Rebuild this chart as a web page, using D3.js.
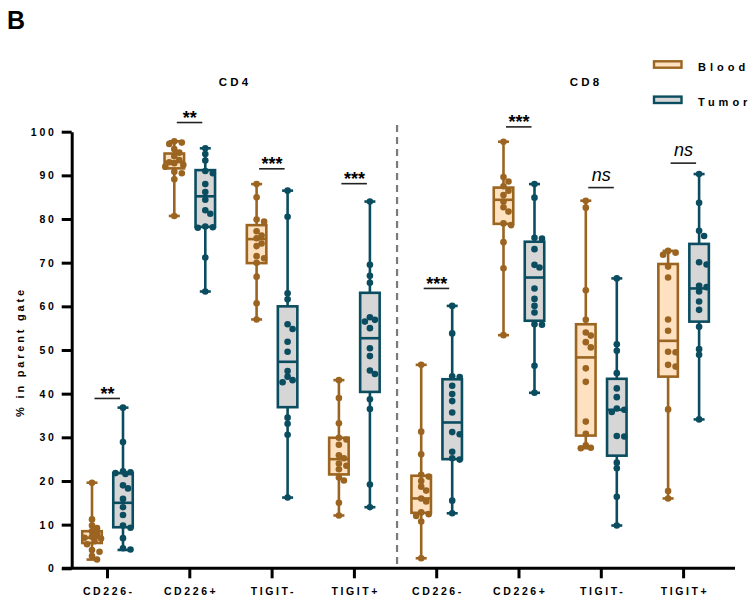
<!DOCTYPE html>
<html>
<head>
<meta charset="utf-8">
<script src="https://cdn.jsdelivr.net/npm/d3@7"></script>
<style>
  body { margin: 0; background: #fff; }
  svg text { font-family: "Liberation Sans", Arial, sans-serif; }
</style>
</head>
<body>
<div id="chart"></div>
<script>
// categories
const groupKeys = ["CD4 CD226-", "CD4 CD226+", "CD4 TIGIT-", "CD4 TIGIT+",
                   "CD8 CD226-", "CD8 CD226+", "CD8 TIGIT-", "CD8 TIGIT+"];
const tickLabels = ["CD226-", "CD226+", "TIGIT-", "TIGIT+", "CD226-", "CD226+", "TIGIT-", "TIGIT+"];
const series = ["Blood", "Tumor"];
const yTicks = [0, 10, 20, 30, 40, 50, 60, 70, 80, 90, 100];

// box stats: [min, q1, median, q3, max]
const bloodBoxes = [
  [2.0, 5.8, 7.0, 8.5, 19.6],
  [80.7, 91.6, 93.1, 95.0, 97.8],
  [57.0, 69.9, 75.4, 78.6, 88.0],
  [12.1, 21.5, 25.0, 29.9, 43.1],
  [2.3, 12.7, 16.0, 21.2, 46.6],
  [53.4, 78.9, 84.4, 87.2, 97.7],
  [27.5, 30.4, 48.3, 55.9, 84.2],
  [16.0, 43.9, 52.1, 69.7, 72.7]
];
const tumorBoxes = [
  [4.2, 9.4, 15.0, 21.8, 36.8],
  [63.4, 78.2, 85.2, 91.2, 96.2],
  [16.2, 36.9, 47.3, 60.0, 86.5],
  [14.0, 40.4, 52.7, 63.1, 84.0],
  [12.6, 25.0, 33.4, 43.3, 60.1],
  [40.2, 56.7, 66.6, 74.8, 88.0],
  [9.8, 25.8, 36.3, 43.4, 66.4],
  [34.1, 56.5, 64.1, 74.3, 90.3]
];

// individual values
const bloodPoints = [
  [19.6, 11.2, 9.8, 9.2, 8.5, 7.8, 7.2, 7.0, 6.8, 6.2, 5.5, 4.2, 3.8, 2.8, 2.0],
  [97.8, 97.5, 97.2, 96.0, 95.2, 94.4, 93.5, 93.0, 92.8, 92.4, 92.0, 90.8, 90.5, 89.1, 80.7],
  [88.0, 85.0, 79.9, 79.4, 77.2, 76.2, 75.6, 74.4, 73.8, 71.5, 71.0, 70.0, 66.8, 60.7, 57.0],
  [43.1, 39.0, 33.2, 29.9, 29.5, 28.3, 25.9, 25.2, 24.0, 23.5, 22.7, 20.8, 20.1, 15.0, 12.1],
  [46.6, 31.3, 26.1, 21.4, 21.0, 20.0, 18.7, 17.8, 16.0, 15.3, 12.8, 12.4, 12.0, 10.7, 2.3],
  [97.7, 89.6, 88.6, 87.5, 86.5, 85.5, 84.0, 82.7, 81.7, 79.0, 78.6, 74.7, 68.7, 53.4],
  [84.2, 82.6, 63.7, 56.9, 54.0, 53.3, 51.8, 50.6, 45.8, 42.7, 33.6, 30.8, 28.2, 27.6, 27.5],
  [72.7, 72.3, 71.8, 69.1, 66.6, 57.0, 54.4, 49.6, 49.5, 46.6, 46.2, 36.4, 17.7, 16.0]
];
const tumorPoints = [
  [36.8, 28.9, 22.2, 22.0, 21.8, 21.6, 19.0, 18.3, 15.9, 14.0, 12.2, 9.8, 9.3, 6.9, 4.6, 4.3],
  [96.2, 94.9, 93.4, 91.0, 90.5, 88.0, 86.2, 84.4, 82.0, 81.2, 78.3, 78.1, 78.0, 71.2, 63.4],
  [86.5, 80.5, 63.0, 61.6, 55.9, 54.8, 51.9, 49.6, 45.2, 43.9, 43.1, 42.6, 34.5, 33.1, 30.6, 16.2],
  [84.0, 69.5, 67.0, 65.4, 57.5, 56.9, 56.5, 55.0, 50.4, 48.6, 45.3, 44.5, 38.7, 36.5, 19.2, 14.0],
  [60.1, 53.8, 44.0, 43.8, 41.8, 39.9, 38.3, 35.7, 31.2, 30.7, 26.7, 25.2, 24.9, 15.5, 12.6],
  [88.0, 84.9, 75.7, 75.5, 73.1, 69.5, 68.9, 64.1, 61.7, 60.1, 58.6, 55.9, 55.8, 46.4, 40.2],
  [66.4, 51.3, 49.8, 44.7, 41.2, 39.2, 36.6, 36.3, 35.8, 30.3, 30.2, 24.2, 22.9, 16.4, 9.8],
  [90.3, 83.7, 77.3, 76.1, 70.1, 69.6, 64.7, 64.4, 63.4, 61.1, 59.2, 55.3, 50.2, 48.9, 34.1]
];

// significance brackets
const sigLabels = ["**", "**", "***", "***", "***", "***", "ns", "ns"];
const sigLevels = [38.9, 102.1, 91.5, 88.1, 64.1, 101.1, 87.2, 92.8];

const colors = {
  Blood: { stroke: "#9b6420", fill: "#fde1c1" },
  Tumor: { stroke: "#0b4d60", fill: "#d6d6d6" }
};

const width = 750, height = 602;
const svg = d3.select("#chart").append("svg")
  .attr("width", width).attr("height", height);

// scales
const x = d3.scaleBand().domain(groupKeys).range([66.35, 724.75]).padding(0);
const xSub = d3.scalePoint().domain(series).range([-15.5, 15.5]);
const y = d3.scaleLinear().domain([0, 100]).range([568.3, 131.7]);
const xCenter = (k) => x(k) + x.bandwidth() / 2;

// panel label
svg.append("text").attr("x", 7).attr("y", 29)
  .attr("font-size", 25).attr("font-weight", "bold").text("B");

// axes
const yAxis = svg.append("g")
  .attr("transform", "translate(71.7,0)")
  .call(d3.axisLeft(y).tickValues(yTicks).tickSize(10).tickSizeOuter(0).tickPadding(5));
yAxis.select(".domain").attr("stroke-width", 3);
yAxis.selectAll(".tick line").attr("stroke-width", 3);
yAxis.selectAll(".tick text")
  .attr("font-size", 10.5).attr("font-weight", "bold")
  .style("letter-spacing", "2.8px").attr("fill", "#000")
  .attr("font-family", "Liberation Sans, Arial, sans-serif");

const xAxis = svg.append("g")
  .attr("transform", "translate(0,568.3)")
  .call(d3.axisBottom(x).tickSize(10).tickSizeOuter(0).tickPadding(9)
    .tickFormat((d, i) => tickLabels[i]));
xAxis.select(".domain").attr("d", "M62,0H735").attr("stroke-width", 3);
xAxis.selectAll(".tick line").attr("stroke-width", 3);
xAxis.selectAll(".tick text")
  .attr("font-size", 10.5).attr("font-weight", "bold")
  .attr("dx", "1.3px")
  .style("letter-spacing", "2.6px").attr("fill", "#000")
  .attr("font-family", "Liberation Sans, Arial, sans-serif");

// y title
svg.append("text")
  .attr("transform", "translate(23.5,352) rotate(-90)")
  .attr("text-anchor", "middle")
  .attr("font-size", 11).attr("font-weight", "bold")
  .style("letter-spacing", "2.8px")
  .text("% in parent gate");

// section titles
svg.append("text").attr("x", 235).attr("y", 86).attr("text-anchor", "middle")
  .attr("font-size", 11.5).attr("font-weight", "bold").style("letter-spacing", "3.2px")
  .text("CD4");
svg.append("text").attr("x", 586).attr("y", 86).attr("text-anchor", "middle")
  .attr("font-size", 11.5).attr("font-weight", "bold").style("letter-spacing", "3.2px")
  .text("CD8");

// dashed separator between CD4 and CD8
const sepX = (xCenter(groupKeys[3]) + xCenter(groupKeys[4])) / 2 + 1.5;
svg.append("line")
  .attr("x1", sepX).attr("x2", sepX)
  .attr("y1", 125).attr("y2", 568)
  .attr("stroke", "#7a7a7a").attr("stroke-width", 2.2)
  .attr("stroke-dasharray", "7,5");

// simple dodge so dots do not pile up on each other
function swarm(values, cx) {
  const placed = [];
  const offsets = [0, 5, -5, 2.5, -2.5, 7.5, -7.5, 9, -9];
  return values.map((v) => {
    const py = y(v);
    let pick = null;
    for (const o of offsets) {
      if (placed.every((p) => Math.hypot(p.x - (cx + o), p.y - py) >= 5.6)) {
        pick = o;
        break;
      }
    }
    if (pick === null) {
      let bestD = -1;
      offsets.forEach((o) => {
        const d = d3.min(placed, (p) => Math.hypot(p.x - (cx + o), p.y - py));
        if (d > bestD) { bestD = d; pick = o; }
      });
    }
    const pt = { x: cx + pick, y: py };
    placed.push(pt);
    return pt;
  });
}

const boxW = 19.5, capW = 11;
const plot = svg.append("g");

groupKeys.forEach((key, gi) => {
  series.forEach((s) => {
    const stats = s === "Blood" ? bloodBoxes[gi] : tumorBoxes[gi];
    const pts = s === "Blood" ? bloodPoints[gi] : tumorPoints[gi];
    const c = colors[s];
    const cx = xCenter(key) + xSub(s);
    const [mn, q1, med, q3, mx] = stats;
    const g = plot.append("g");

    // whiskers
    g.append("line").attr("x1", cx).attr("x2", cx).attr("y1", y(mx)).attr("y2", y(q3))
      .attr("stroke", c.stroke).attr("stroke-width", 2.6);
    g.append("line").attr("x1", cx).attr("x2", cx).attr("y1", y(q1)).attr("y2", y(mn))
      .attr("stroke", c.stroke).attr("stroke-width", 2.6);
    [mn, mx].forEach((v) => {
      g.append("line").attr("x1", cx - capW / 2).attr("x2", cx + capW / 2)
        .attr("y1", y(v)).attr("y2", y(v))
        .attr("stroke", c.stroke).attr("stroke-width", 2.6);
    });
    // box
    g.append("rect")
      .attr("x", cx - boxW / 2).attr("y", y(q3))
      .attr("width", boxW).attr("height", y(q1) - y(q3))
      .attr("fill", c.fill).attr("stroke", c.stroke).attr("stroke-width", 2.6);
    g.append("line").attr("x1", cx - boxW / 2).attr("x2", cx + boxW / 2)
      .attr("y1", y(med)).attr("y2", y(med))
      .attr("stroke", c.stroke).attr("stroke-width", 2.6);

    // dots
    g.selectAll("circle").data(swarm(pts, cx)).enter().append("circle")
      .attr("cx", (d) => d.x).attr("cy", (d) => d.y).attr("r", 3.3)
      .attr("fill", c.stroke);
  });

  // significance
  const gc = xCenter(key);
  const ly = y(sigLevels[gi]);
  svg.append("line").attr("x1", gc - 13).attr("x2", gc + 12.5)
    .attr("y1", ly).attr("y2", ly)
    .attr("stroke", "#222").attr("stroke-width", 1.6);
  const isNs = sigLabels[gi] === "ns";
  svg.append("text")
    .attr("x", gc).attr("y", isNs ? ly - 7 : ly + 1.5)
    .attr("text-anchor", "middle")
    .attr("font-size", 18)
    .attr("font-weight", isNs ? "normal" : "bold")
    .attr("font-style", isNs ? "italic" : "normal")
    .text(sigLabels[gi]);
});

// legend
const legend = svg.append("g");
series.forEach((s, i) => {
  const ly = 64.5 + i * 35.3;
  legend.append("rect")
    .attr("x", 654).attr("y", ly - 3.2).attr("width", 27.5).attr("height", 6.4)
    .attr("fill", colors[s].fill).attr("stroke", colors[s].stroke).attr("stroke-width", 2.4);
  legend.append("text")
    .attr("x", 698).attr("y", ly + 6)
    .attr("font-size", 11).attr("font-weight", "bold")
    .style("letter-spacing", "4px")
    .text(s);
});
</script>
</body>
</html>
